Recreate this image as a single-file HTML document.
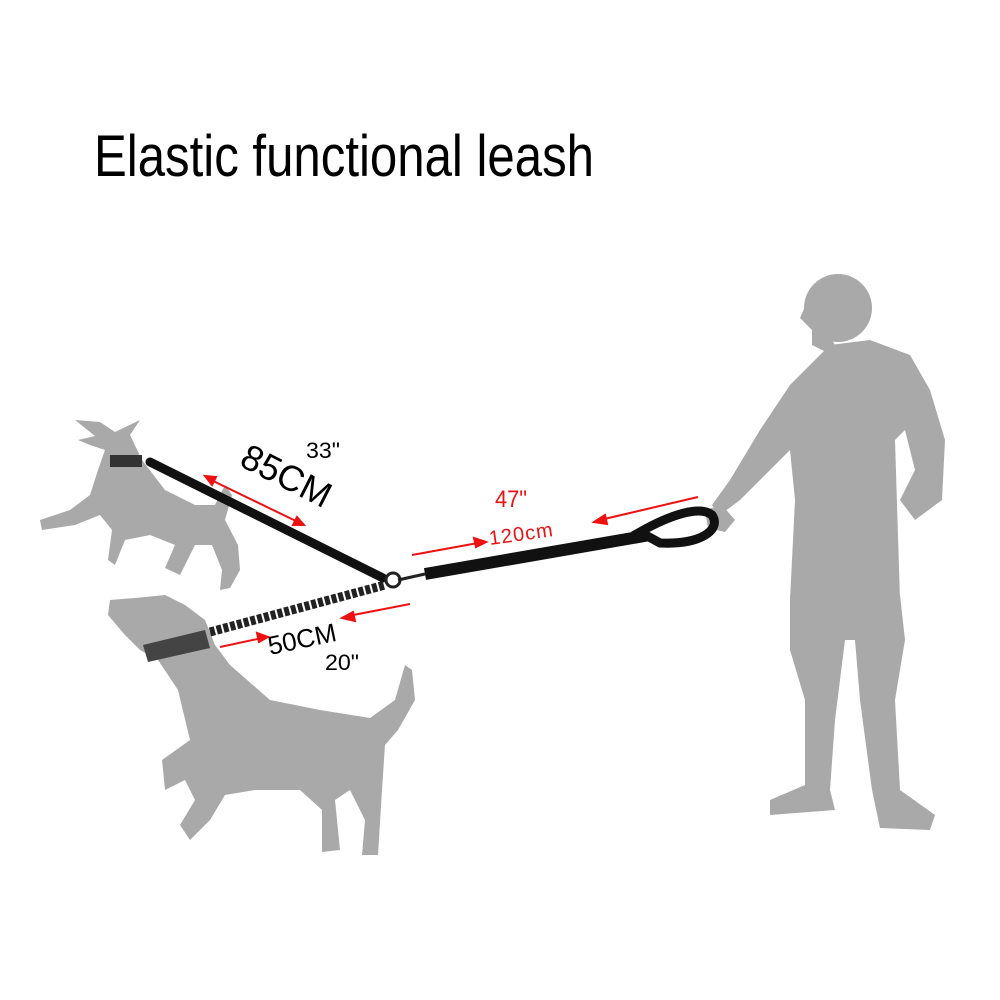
<!DOCTYPE html>
<html><head><style>html,body{margin:0;padding:0;background:#fff}svg{display:block}</style></head>
<body>
<svg width="1000" height="1000" viewBox="0 0 1000 1000" xmlns="http://www.w3.org/2000/svg">
<rect width="1000" height="1000" fill="#fff"/>
<text x="94" y="176" font-family="Liberation Sans, sans-serif" font-size="58" textLength="500" lengthAdjust="spacingAndGlyphs" fill="#000">Elastic functional leash</text>

<g fill="#a9a9a9">
<!-- person -->
<circle cx="838" cy="308" r="34"/>
<path d="M808 300 L800 318 L812 330 L812 345 L826 352 L840 350 L850 370 Z"/>
<path d="M830 345 L870 340 L910 355 L930 390 L945 440 L942 500 L915 520 L900 500 L915 470 L905 430 L895 440 L900 600 L790 600 L795 500 L790 450 L770 470 L740 500 L720 515 L712 505 L730 480 L760 430 L790 385 L815 360 Z"/>
<path d="M790 595 L900 595 L905 640 L895 700 L900 790 L935 815 L930 830 L880 828 L872 790 L860 700 L855 640 L845 640 L835 720 L830 790 L835 810 L770 815 L770 800 L805 785 L805 700 L790 650 Z"/>
<path d="M705 510 L722 505 L735 520 L725 532 L708 528 Z"/>
<!-- dog 1 -->
<path d="M75 420 L100 422 L115 432 L140 420 L130 435 L142 460 L165 490 L195 505 L215 505 L225 485 L232 495 L225 520 L238 545 L240 570 L230 588 L220 590 L222 570 L212 545 L195 545 L180 575 L165 568 L175 545 L150 535 L125 540 L115 565 L108 560 L112 530 L100 515 L75 525 L42 530 L40 520 L70 510 L90 495 L98 470 L105 450 L90 445 L78 440 L95 436 Z"/>
<!-- dog 2 -->
<path d="M110 600 L135 598 L165 595 L185 605 L205 620 L215 645 L230 665 L270 700 L320 710 L370 718 L395 700 L405 665 L412 670 L415 700 L398 730 L385 745 L382 790 L378 855 L362 855 L365 820 L350 790 L335 800 L340 850 L322 852 L322 810 L300 790 L255 790 L225 795 L210 820 L190 840 L180 825 L195 800 L185 780 L165 790 L162 760 L190 740 L178 690 L158 660 L140 650 L125 635 L108 615 Z"/>
</g>

<!-- collars -->
<rect x="110" y="455" width="32" height="12" fill="#333"/>
<polygon points="143,645 205,630 210,648 148,662" fill="#444"/>

<!-- upper bungee -->
<line x1="150" y1="462" x2="383" y2="578" stroke="#111" stroke-width="9" stroke-linecap="round"/>
<!-- lower bungee -->
<line x1="210" y1="632" x2="385" y2="585" stroke="#222" stroke-width="9" stroke-dasharray="5 2"/>
<circle cx="393" cy="580" r="7" fill="none" stroke="#222" stroke-width="3"/>
<line x1="398" y1="580" x2="425" y2="574" stroke="#222" stroke-width="3"/>
<!-- main leash -->
<line x1="425" y1="574" x2="650" y2="535" stroke="#111" stroke-width="12"/>
<path d="M640 532 C670 515 700 505 712 515 C722 530 700 545 660 543 Z" fill="none" stroke="#111" stroke-width="9"/>

<!-- labels -->
<g font-family="Liberation Sans, sans-serif">
<text x="238" y="465" font-size="36" transform="rotate(27 238 465)">85CM</text>
<text x="306" y="458" font-size="22" textLength="34" lengthAdjust="spacingAndGlyphs">33"</text>
<text x="270" y="655" font-size="26" transform="rotate(-12 270 655)">50CM</text>
<text x="325" y="670" font-size="22" textLength="34" lengthAdjust="spacingAndGlyphs">20"</text>
<text x="495" y="507" font-size="24" fill="#e11" textLength="32" lengthAdjust="spacingAndGlyphs">47"</text>
<text x="490" y="545" font-size="20" fill="#e11" transform="rotate(-8 490 545)" letter-spacing="1">120cm</text>
</g>
<g stroke="#e11" stroke-width="2" fill="#e11">
<line x1="207" y1="478" x2="300" y2="523"/>
<polygon points="205,476 216,477 212,485"/>
<polygon points="304,525 293,525 297,517"/>
<line x1="412" y1="555" x2="478" y2="543"/>
<polygon points="486,542 474,538 476,547"/>
<line x1="600" y1="520" x2="698" y2="497"/>
<polygon points="594,522 605,515 607,524"/>
<line x1="220" y1="647" x2="262" y2="638"/>
<polygon points="268,637 257,633 259,642"/>
<line x1="348" y1="616" x2="410" y2="604"/>
<polygon points="342,618 353,612 355,621"/>
</g>
</svg>
</body></html>
